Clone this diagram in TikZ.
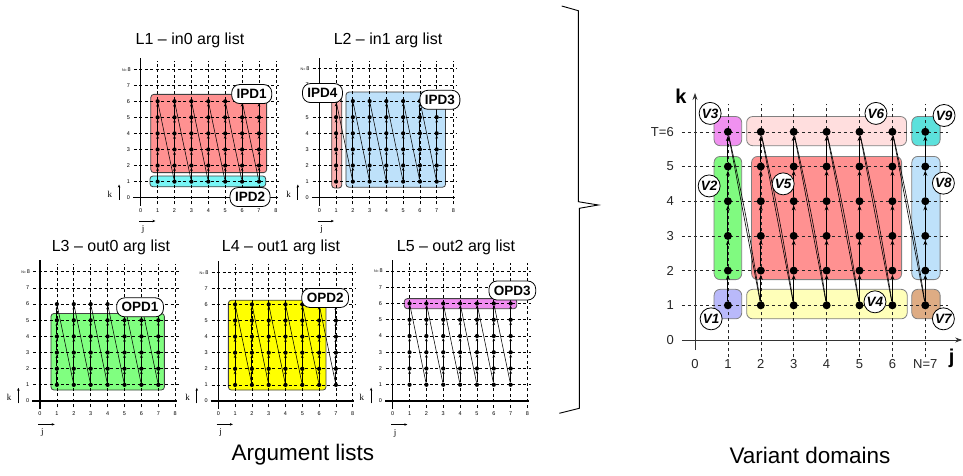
\documentclass[tikz,border=0pt]{standalone}
\usepackage{fontspec}
\setmainfont{Liberation Sans}
\newfontfamily\serifface{Liberation Serif}
\usetikzlibrary{arrows.meta}

% region fill colours
\definecolor{ipdA}{RGB}{255,145,145}
\definecolor{ipdB}{RGB}{120,245,245}
\definecolor{ipdC}{RGB}{190,225,250}
\definecolor{ipdD}{RGB}{250,175,175}
\definecolor{opdA}{RGB}{128,255,128}
\definecolor{opdB}{RGB}{255,255,0}
\definecolor{opdC}{RGB}{240,140,240}
\definecolor{vA}{RGB}{185,185,250}
\definecolor{vB}{RGB}{128,250,128}
\definecolor{vC}{RGB}{240,145,240}
\definecolor{vD}{RGB}{255,255,185}
\definecolor{vE}{RGB}{255,145,145}
\definecolor{vF}{RGB}{255,222,222}
\definecolor{vG}{RGB}{222,172,132}
\definecolor{vH}{RGB}{190,225,250}
\definecolor{vI}{RGB}{92,225,220}

\tikzset{
  % small argument-list panels
  gridln/.style={line width=0.8pt, dash pattern=on 3pt off 2.5pt},
  axisln/.style={line width=1.3pt},
  ticklbl/.style={font=\fontsize{5.5}{6}\selectfont, inner sep=0pt},
  dirlbl/.style={font=\serifface\fontsize{9}{9}\selectfont, inner sep=0pt},
  dirarrow/.style={line width=0.8pt, -{Stealth[length=3pt,width=2.5pt]}},
  sdot/.style={circle, fill=black, inner sep=0pt, minimum size=4.2pt},
  sstep/.style={line width=0.9pt, -{Stealth[length=3pt,width=2.8pt]}},
  sjump/.style={line width=0.55pt},
  regbox/.style={draw=black!75, line width=0.8pt, rounded corners=3pt},
  tagbox/.style={draw, fill=white, line width=0.8pt, rounded corners=8pt,
    font=\fontsize{13.5}{14}\selectfont\bfseries, inner xsep=5pt, inner ysep=0pt,
    minimum height=19pt},
  title/.style={font=\fontsize{16}{16}\selectfont, inner sep=0pt},
  caption/.style={font=\fontsize{22.5}{23}\selectfont, inner sep=0pt},
  % variant-domain panel
  rgrid/.style={line width=0.6pt, black!85, dash pattern=on 3pt off 3pt},
  raxis/.style={line width=0.9pt, black!80, -{Stealth[length=7pt,width=5pt]}},
  rtick/.style={font=\fontsize{13}{13}\selectfont, text=black!85, inner sep=0pt},
  rdot/.style={circle, fill=black, inner sep=0pt, minimum size=8pt},
  rstep/.style={line width=0.9pt, -{Stealth[length=5pt,width=4pt]}},
  rjump/.style={line width=0.6pt},
  vbox/.style={draw=black!50, line width=0.8pt, rounded corners=6pt},
  vtag/.style={circle, draw, fill=white, line width=0.8pt, minimum size=22pt,
    inner sep=0pt, font=\fontsize{13.5}{14}\selectfont\bfseries\itshape},
}

% grid, axes and tick labels of one argument-list panel
\newcommand\argsgrid[1]{%
  \foreach \i in {1,...,8} {
    \draw[gridln] (\i,-0.4) -- (\i,8.5);
    \draw[gridln] (-0.4,\i) -- (8.2,\i);
  }
  \draw[axisln] (-0.45,0) -- (8.1,0);
  \draw[axisln] (0,-0.5) -- (0,8.7);
  \foreach \i in {0,...,8} \node[ticklbl] (#1-tj\i) at (\i,-0.78) {\i};
  \foreach \i in {0,...,7} \node[ticklbl] (#1-tk\i) at (-0.73,\i) {\i};
  \node[ticklbl, anchor=east] (#1-tk8) at (-0.58,8)
    {{\fontsize{3.6}{4}\selectfont N=}\,8};
  \node[dirlbl] (#1-k) at (-1.83,0.23) {k};
  \coordinate (#1-ka) at (-1.28,-0.14);
  \coordinate (#1-kb) at (-1.28,0.82);
  \draw[dirarrow] (#1-ka) -- (#1-kb);
  \node[dirlbl] (#1-j) at (0.14,-1.97) {j};
  \coordinate (#1-ja) at (-0.1,-1.45);
  \coordinate (#1-jb) at (0.87,-1.45);
  \draw[dirarrow] (#1-ja) -- (#1-jb);
}

% iteration points and their traversal order
\newcommand\argstrace[1]{%
  \foreach \j in {1,...,7}
    \foreach \k in {1,...,6}
      \node[sdot] (#1-\j-\k) at (\j,\k) {};
  \foreach \j in {1,...,7}
    \foreach \k [count=\n from 2] in {1,...,5}
      \draw[sstep] (#1-\j-\k) -- (#1-\j-\n);
  \foreach \j [count=\n from 2] in {1,...,6}
    \draw[sjump] (#1-\j-6) -- (#1-\n-1);
}

\begin{document}
\begin{tikzpicture}[x=1pt, y=-1pt]
\useasboundingbox (0,0) rectangle (963,476);
\fill[white] (0,0) rectangle (963,476);

% ---------- L1 ----------
\node[title] (t1) at (190,40) {L1 -- in0 arg list};
\begin{scope}[shift={(140.7,197.7)}, x=16.9pt, y=16.07pt]
  \draw[regbox, fill=ipdA] (0.6,1.56) rectangle (7.45,6.43);
  \draw[regbox, fill=ipdB] (0.55,0.68) rectangle (7.4,1.35);
  \argsgrid{a}
  \argstrace{a}
  \node[tagbox] (ipd1) at (6.57,6.45) {IPD1};
  \node[tagbox] (ipd2) at (6.47,0.04) {IPD2};
\end{scope}

% ---------- L2 ----------
\node[title] (t2) at (388,40) {L2 -- in1 arg list};
\begin{scope}[shift={(319.3,197.7)}, x=16.77pt, y=16.1pt]
  \draw[regbox, fill=ipdD] (0.74,0.6) rectangle (1.34,6.2);
  \draw[regbox, fill=ipdC] (1.59,0.65) rectangle (7.53,6.56);
  \argsgrid{b}
  \argstrace{b}
  \node[tagbox] (ipd4) at (0.19,6.5) {IPD4};
  \node[tagbox] (ipd3) at (7.19,6.08) {IPD3};
\end{scope}

% ---------- L3 ----------
\node[title] (t3) at (111,247) {L3 -- out0 arg list};
\begin{scope}[shift={(40,401)}, x=16.9pt, y=16.15pt]
  \draw[regbox, fill=opdA] (0.65,0.68) rectangle (7.36,5.42);
  \argsgrid{c}
  \argstrace{c}
  \node[tagbox] (opd1) at (5.92,5.8) {OPD1};
\end{scope}

% ---------- L4 ----------
\node[title] (t4) at (281,247) {L4 -- out1 arg list};
\begin{scope}[shift={(218.3,401)}, x=16.8pt, y=16.1pt]
  \draw[regbox, fill=opdB] (0.6,0.68) rectangle (6.41,6.26);
  \argsgrid{d}
  \argstrace{d}
  \node[tagbox] (opd2) at (6.36,6.4) {OPD2};
\end{scope}

% ---------- L5 ----------
\node[title] (t5) at (456,247) {L5 -- out2 arg list};
\begin{scope}[shift={(392.7,401)}, x=16.85pt, y=16.25pt]
  \draw[regbox, fill=opdC] (0.69,5.68) rectangle (7.36,6.3);
  \argsgrid{e}
  \argstrace{e}
  \node[tagbox] (opd3) at (7.1,6.8) {OPD3};
\end{scope}

% ---------- brace ----------
\draw[line width=0.9pt, line join=miter]
  (561.7,6) -- (578.3,10.7) -- (578.3,201.7) -- (598.3,205)
  -- (579.3,208.3) -- (579.3,408.3) -- (559.3,413.3);

% ---------- variant domains ----------
\begin{scope}[shift={(695,340)}, x=32.9pt, y=34.7pt]
  \draw[vbox, fill=vA] (0.58,0.61) rectangle (1.42,1.46);
  \draw[vbox, fill=vD] (1.57,0.61) rectangle (6.45,1.46);
  \draw[vbox, fill=vG] (6.59,0.61) rectangle (7.45,1.46);
  \draw[vbox, fill=vB] (0.58,1.74) rectangle (1.42,5.29);
  \draw[vbox, fill=vE] (1.72,1.74) rectangle (6.28,5.29);
  \draw[vbox, fill=vH] (6.59,1.74) rectangle (7.45,5.29);
  \draw[vbox, fill=vC] (0.58,5.6) rectangle (1.42,6.44);
  \draw[vbox, fill=vF] (1.57,5.6) rectangle (6.43,6.44);
  \draw[vbox, fill=vI] (6.59,5.6) rectangle (7.45,6.44);

  \foreach \i in {1,...,6} \draw[rgrid] (-0.4,\i) -- (7.7,\i);
  \foreach \i in {1,...,7} \draw[rgrid] (\i,-0.5) -- (\i,6.8);

  \coordinate (jx0) at (-0.4,0);
  \coordinate (jx1) at (8.12,0);
  \coordinate (ky0) at (0,-0.29);
  \coordinate (ky1) at (0,7.12);
  \draw[raxis] (jx0) -- (jx1);
  \draw[raxis] (ky0) -- (ky1);
  \node[font=\fontsize{20}{20}\selectfont\bfseries, inner sep=0pt] (jname) at (7.8,-0.52) {j};
  \node[font=\fontsize{20}{20}\selectfont\bfseries, inner sep=0pt] (kname) at (-0.43,7.01) {k};

  \foreach \i in {0,...,6} \node[rtick] (rj\i) at (\i,-0.69) {\i};
  \node[rtick] (rj7) at (7,-0.69) {N=7};
  \foreach \i in {0,...,5} \node[rtick, anchor=east] (rk\i) at (-0.64,\i) {\i};
  \node[rtick, anchor=east] (rk6) at (-0.64,6) {T=6};

  \foreach \j in {1,...,7}
    \foreach \k in {1,...,6}
      \node[rdot] (r-\j-\k) at (\j,\k) {};
  \foreach \j in {1,...,7}
    \foreach \k [count=\n from 2] in {1,...,5}
      \draw[rstep] (r-\j-\k) -- (r-\j-\n);
  \foreach \j [count=\n from 2] in {1,...,6} {
    \draw[rjump] (r-\j-6) -- (r-\n-1);
    \draw[rjump] (r-\j-6) to[bend left=2] (r-\n-1);
  }

  \node[vtag] (v1) at (0.49,0.61) {V1};
  \node[vtag] (v2) at (0.43,4.44) {V2};
  \node[vtag] (v3) at (0.46,6.53) {V3};
  \node[vtag] (v4) at (5.47,1.1) {V4};
  \node[vtag] (v5) at (2.68,4.5) {V5};
  \node[vtag] (v6) at (5.5,6.53) {V6};
  \node[vtag] (v7) at (7.55,0.61) {V7};
  \node[vtag] (v8) at (7.55,4.52) {V8};
  \node[vtag] (v9) at (7.57,6.47) {V9};
\end{scope}

% ---------- captions ----------
\node[caption] (cap1) at (303,455) {Argument lists};
\node[caption] (cap2) at (810,455) {Variant domains};
\end{tikzpicture}
\end{document}
